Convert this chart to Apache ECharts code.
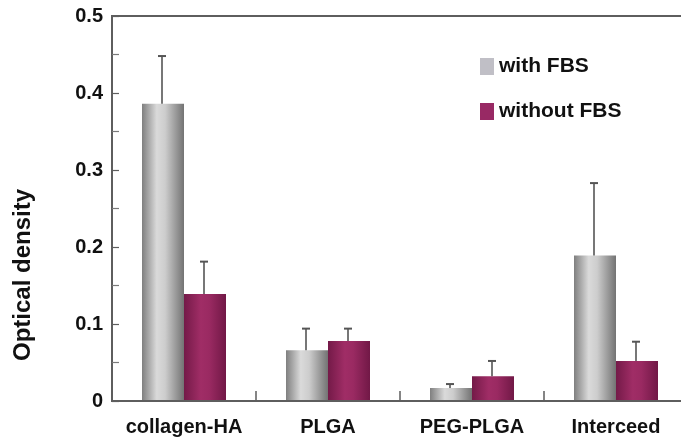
<!DOCTYPE html>
<html>
<head>
<meta charset="utf-8">
<script src="https://cdn.jsdelivr.net/npm/echarts@6/dist/echarts.min.js"></script>
<style>
html,body{margin:0;padding:0;background:#fff;}
#chart{width:681px;height:442px;}
</style>
</head>
<body>
<div id="chart"></div>
<script>
var categories = ['collagen-HA', 'PLGA', 'PEG-PLGA', 'Interceed'];
var seriesNames = ['with FBS', 'without FBS'];
var withFBS = [0.386, 0.066, 0.017, 0.189];
var withFBSErr = [0.062, 0.028, 0.005, 0.094];
var withoutFBS = [0.139, 0.078, 0.032, 0.052];
var withoutFBSErr = [0.042, 0.016, 0.020, 0.025];
var yTicks = [0, 0.1, 0.2, 0.3, 0.4, 0.5];

var FONT = 'Liberation Sans, Arial, Helvetica, sans-serif';
var BAR_W = 42;

var chart = echarts.init(document.getElementById('chart'), null, {renderer: 'canvas'});

var greyGrad = new echarts.graphic.LinearGradient(0, 0, 1, 0, [
  {offset: 0, color: '#7f7f7f'},
  {offset: 0.35, color: '#dadada'},
  {offset: 0.55, color: '#cdcdcd'},
  {offset: 1, color: '#737373'}
]);
var maroonGrad = new echarts.graphic.LinearGradient(0, 0, 1, 0, [
  {offset: 0, color: '#741a48'},
  {offset: 0.4, color: '#a02d66'},
  {offset: 0.6, color: '#9a2a62'},
  {offset: 1, color: '#711846'}
]);

function errSeries(name, vals, errs, side) {
  var data = vals.map(function (v, i) { return [i, v, v + errs[i]]; });
  return {
    type: 'custom',
    name: name,
    z: 5,
    data: data,
    renderItem: function (params, api) {
      var i = api.value(0);
      var lo = api.coord([i, api.value(1)]);
      var hi = api.coord([i, api.value(2)]);
      var x = lo[0] + side * BAR_W / 2 - 1;
      var cap = 4;
      var style = {stroke: '#555', lineWidth: 1.6};
      return {
        type: 'group',
        children: [
          {type: 'line', shape: {x1: x, y1: lo[1], x2: x, y2: hi[1]}, style: style},
          {type: 'line', shape: {x1: x - cap, y1: hi[1], x2: x + cap, y2: hi[1]}, style: {stroke: '#555', lineWidth: 2}}
        ]
      };
    }
  };
}

var option = {
  animation: false,
  backgroundColor: '#fff',
  grid: {left: 112, top: 16, width: 576, height: 385, outerBoundsMode: 'none', containLabel: false,
         show: true, borderColor: '#5e5e5e', borderWidth: 2},
  legend: {
    orient: 'vertical',
    left: 475,
    top: 51,
    itemWidth: 14,
    itemHeight: 17,
    itemGap: 24,
    icon: 'rect',
    textStyle: {fontFamily: FONT, fontWeight: 'bold', fontSize: 21, color: '#111'},
    data: [
      {name: seriesNames[0], itemStyle: {color: '#c0bfc6'}},
      {name: seriesNames[1], itemStyle: {color: '#982964'}}
    ]
  },
  xAxis: {
    type: 'category',
    data: categories,
    z: 10,
    axisLine: {show: true, lineStyle: {color: '#5e5e5e', width: 2}},
    axisTick: {show: true, inside: true, alignWithLabel: false, interval: 0, length: 10, lineStyle: {color: '#5e5e5e', width: 1.5}},
    axisLabel: {interval: 0, fontFamily: FONT, fontWeight: 'bold', fontSize: 20, color: '#111', margin: 16}
  },
  yAxis: {
    type: 'value',
    min: yTicks[0],
    max: yTicks[yTicks.length - 1],
    interval: 0.1,
    splitLine: {show: false},
    axisLine: {show: true, lineStyle: {color: '#5e5e5e', width: 2}},
    axisTick: {show: true, inside: true, length: 7, lineStyle: {color: '#5e5e5e', width: 1.2}},
    minorTick: {show: true, splitNumber: 2, length: 7, lineStyle: {color: '#7a7a7a', width: 1.2}},
    axisLabel: {fontFamily: FONT, fontWeight: 'bold', fontSize: 20, color: '#111', margin: 9}
  },
  graphic: [{
    type: 'text',
    x: 23,
    y: 275,
    rotation: Math.PI / 2,
    style: {
      text: 'Optical density',
      fontFamily: FONT,
      fontWeight: 'bold',
      fontSize: 24,
      fill: '#111',
      textAlign: 'center',
      textVerticalAlign: 'middle'
    }
  }],
  series: [
    {name: seriesNames[0], type: 'bar', data: withFBS, barWidth: BAR_W, barGap: '0%', itemStyle: {color: greyGrad}},
    {name: seriesNames[1], type: 'bar', data: withoutFBS, barWidth: BAR_W, barGap: '0%', itemStyle: {color: maroonGrad}},
    errSeries('err1', withFBS, withFBSErr, -1),
    errSeries('err2', withoutFBS, withoutFBSErr, 1)
  ]
};
chart.setOption(option);
</script>
</body>
</html>
